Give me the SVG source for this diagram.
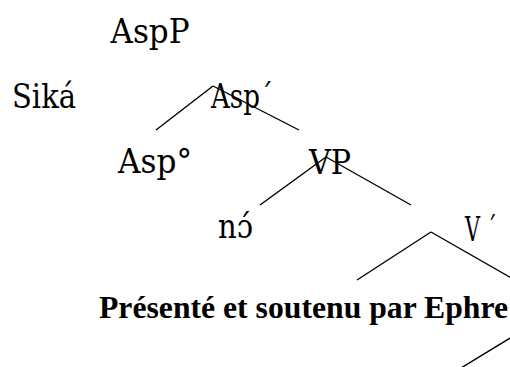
<svg xmlns="http://www.w3.org/2000/svg" width="510" height="367" viewBox="0 0 510 367">
<style>
text{fill:#000}
.lbl{font-size:34px;font-family:"DejaVu Serif","Liberation Serif",serif}
.ttl{font-size:31.5px;font-weight:bold;font-family:"Liberation Serif","Times New Roman",serif}
.edge{stroke:#000;stroke-width:1.4;fill:none}
</style>
<rect width="510" height="367" fill="#fff"/>
<g id="connectors">
<line class="edge" x1="156" y1="130" x2="213" y2="86"/>
<line class="edge" x1="213" y1="86" x2="299" y2="130"/>
<line class="edge" x1="260" y1="205" x2="326" y2="157"/>
<line class="edge" x1="326" y1="157" x2="411" y2="205"/>
<line class="edge" x1="357" y1="280" x2="431" y2="232"/>
<line class="edge" x1="431" y1="232" x2="520" y2="283"/>
<line class="edge" x1="461" y1="368" x2="520" y2="332"/>
</g>
<g id="AspP"><text class="lbl" x="110.5" y="43" textLength="79" lengthAdjust="spacingAndGlyphs">AspP</text></g>
<g id="Sika"><text class="lbl" x="12" y="108" textLength="64" lengthAdjust="spacingAndGlyphs">Siká</text></g>
<g id="AspBar"><text class="lbl" x="211" y="108" textLength="62" lengthAdjust="spacingAndGlyphs">Asp´</text></g>
<g id="AspHead"><text class="lbl" x="118" y="173" textLength="74" lengthAdjust="spacingAndGlyphs">Asp°</text></g>
<g id="VP"><text class="lbl" x="309" y="174" textLength="42" lengthAdjust="spacingAndGlyphs">VP</text></g>
<g id="no"><text class="lbl" x="218" y="238" textLength="35" lengthAdjust="spacingAndGlyphs">nɔ́</text></g>
<g id="VBar"><text class="lbl" x="465" y="240.5" textLength="32" lengthAdjust="spacingAndGlyphs">V ´</text></g>
<g id="caption"><text class="ttl" x="99" y="318" textLength="409" lengthAdjust="spacingAndGlyphs">Présenté et soutenu par Ephre</text></g>
</svg>
